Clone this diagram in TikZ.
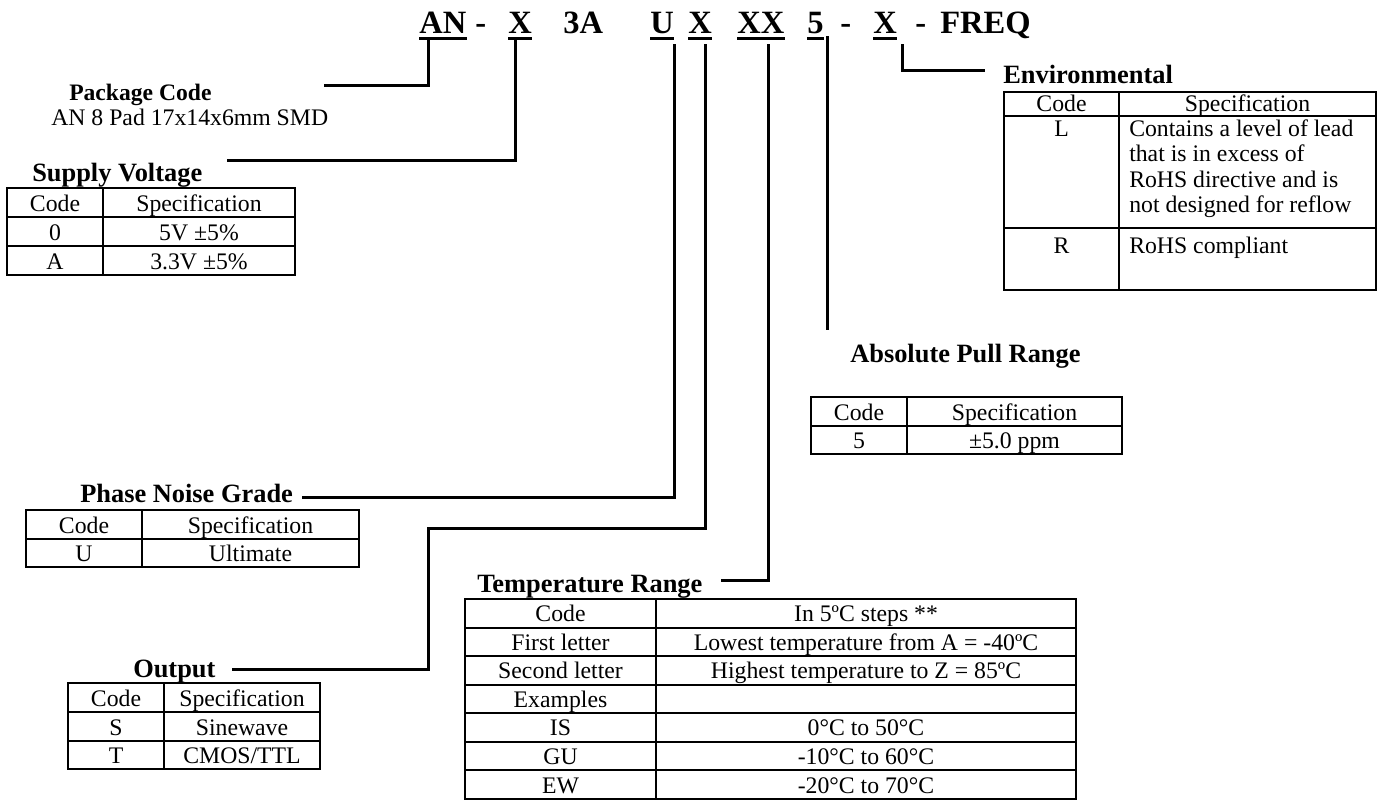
\documentclass[tikz,border=0pt]{standalone}
\usepackage{fontspec}
\setmainfont{Liberation Serif}
\begin{document}
\begin{tikzpicture}[x=0.75pt,y=-0.75pt,
  conn/.style={line width=2.25pt,line join=miter,line cap=rect},
  tbl/.style={line width=1.6pt,line join=miter},
  uline/.style={line width=2pt},
  body/.style={inner sep=0pt,anchor=base,font=\fontsize{17.8}{21}\selectfont},
  bodyl/.style={inner sep=0pt,anchor=base west,font=\fontsize{17.8}{21}\selectfont},
  ttl/.style={inner sep=0pt,anchor=base west,font=\fontsize{19.8}{23}\selectfont\bfseries},
  hdr/.style={inner sep=0pt,anchor=base west,font=\fontsize{24.4}{28}\selectfont\bfseries}]
\useasboundingbox (0,0) rectangle (1381,800);

% ---------- header ----------
\node[hdr] (hAN) at (419,33) {AN};
\node[hdr] (hd1) at (475,33) {-};
\node[hdr] (hX1) at (508,33) {X};
\node[hdr] (h3A) at (563,33) {3A};
\node[hdr] (hU) at (650,33) {U};
\node[hdr] (hX2) at (688,33) {X};
\node[hdr] (hXX) at (737,33) {XX};
\node[hdr] (h5) at (807,33) {5};
\node[hdr] (hd2) at (840,33) {-};
\node[hdr] (hX3) at (873,33) {X};
\node[hdr] (hd3) at (915,33) {-};
\node[hdr] (hF) at (940,33) {FREQ};
\foreach \n in {hAN,hX1,hU,hX2,hXX,h5,hX3}
  \draw[uline] ([yshift=-3.9pt]\n.base west) -- ([yshift=-3.9pt]\n.base east);

% ---------- labels ----------
\node[inner sep=0pt,anchor=base west,font=\fontsize{17.7}{21}\selectfont\bfseries] (lPkg) at (69,100) {Package Code};
\node[bodyl] (lPkgD) at (51,125) {AN 8 Pad 17x14x6mm SMD};
\node[ttl] (lSup) at (32,181) {Supply Voltage};
\node[ttl] (lEnv) at (1003,83) {Environmental};
\node[ttl] (lPull) at (850,362) {Absolute Pull Range};
\node[ttl] (lPh) at (80,502) {Phase Noise Grade};
\node[ttl] (lTmp) at (477,592) {Temperature Range};
\node[ttl] (lOut) at (133,677) {Output};

% ---------- connectors ----------
\coordinate (sAN) at (428,38);  \coordinate (eAN) at (325,85);
\coordinate (sX1) at (515,38);  \coordinate (eX1) at (228,160);
\coordinate (sU) at (674,45);   \coordinate (eU) at (303,497);
\coordinate (sX2) at (705,45);  \coordinate (kX2) at (428,528); \coordinate (eX2) at (233,669);
\coordinate (sXX) at (768,45);  \coordinate (eXX) at (722,580);
\coordinate (s5) at (827,37);   \coordinate (e5) at (827,328);
\coordinate (sX3) at (902,45);  \coordinate (eX3) at (983,70);
\draw[conn] (sAN) |- (eAN);
\draw[conn] (sX1) |- (eX1);
\draw[conn] (sU) |- (eU);
\draw[conn] (sX2) |- (kX2) |- (eX2);
\draw[conn] (sXX) |- (eXX);
\draw[conn] (s5) -- (e5);
\draw[conn] (sX3) |- (eX3);

% ---------- Supply Voltage table ----------
\draw[tbl] (7,188) rectangle (295,275);
\draw[tbl] (7,217) -- (295,217) (7,246) -- (295,246) (103,188) -- (103,275);
\node[body] (sv1) at (55,211) {Code};
\node[body] (sv2) at (199,211) {Specification};
\node[body] (sv3) at (55,240) {0};
\node[body] (sv4) at (199,240) {5V ±5\%};
\node[body] (sv5) at (55,269) {A};
\node[body] (sv6) at (199,269) {3.3V ±5\%};

% ---------- Environmental table ----------
\draw[tbl] (1004,92) rectangle (1376,290);
\draw[tbl] (1004,116) -- (1376,116) (1004,228) -- (1376,228) (1119,92) -- (1119,290);
\node[body] (en1) at (1061.5,111) {Code};
\node[body] (en2) at (1247.5,111) {Specification};
\node[body] (en3) at (1061.5,136) {L};
\node[bodyl] (en4) at (1129,136) {Contains a level of lead};
\node[bodyl] (en5) at (1129,161.5) {that is in excess of};
\node[bodyl] (en6) at (1129,187) {RoHS directive and is};
\node[bodyl] (en7) at (1129,212.5) {not designed for reflow};
\node[body] (en8) at (1061.5,253) {R};
\node[bodyl] (en9) at (1129,253) {RoHS compliant};

% ---------- Absolute Pull Range table ----------
\draw[tbl] (811,397) rectangle (1122,454);
\draw[tbl] (811,426) -- (1122,426) (907,397) -- (907,454);
\node[body] (pr1) at (859,420) {Code};
\node[body] (pr2) at (1014.5,420) {Specification};
\node[body] (pr3) at (859,448) {5};
\node[body] (pr4) at (1014.5,448) {±5.0 ppm};

% ---------- Phase Noise table ----------
\draw[tbl] (26,510) rectangle (359,567);
\draw[tbl] (26,539) -- (359,539) (142,510) -- (142,567);
\node[body] (pn1) at (84,533) {Code};
\node[body] (pn2) at (250.5,533) {Specification};
\node[body] (pn3) at (84,561) {U};
\node[body] (pn4) at (250.5,561) {Ultimate};

% ---------- Output table ----------
\draw[tbl] (68,683) rectangle (320,769);
\draw[tbl] (68,712) -- (320,712) (68,741) -- (320,741) (164,683) -- (164,769);
\node[body] (ou1) at (116,706) {Code};
\node[body] (ou2) at (242,706) {Specification};
\node[body] (ou3) at (116,735) {S};
\node[body] (ou4) at (242,735) {Sinewave};
\node[body] (ou5) at (116,763) {T};
\node[body] (ou6) at (242,763) {CMOS/TTL};

% ---------- Temperature table ----------
\draw[tbl] (465,599) rectangle (1076,799);
\foreach \r in {627.6,656.1,684.7,713.3,741.9,770.4}
  \draw[tbl] (465,\r) -- (1076,\r);
\draw[tbl] (656,599) -- (656,799);
\node[body] (tr1) at (560.5,621.6) {Code};
\node[body] (tr2) at (866,621.6) {In 5ºC steps **};
\node[body] (tr3) at (560.5,650.1) {First letter};
\node[body] (tr4) at (866,650.1) {Lowest temperature from A = -40ºC};
\node[body] (tr5) at (560.5,678.7) {Second letter};
\node[body] (tr6) at (866,678.7) {Highest temperature to Z = 85ºC};
\node[body] (tr7) at (560.5,707.3) {Examples};
\node[body] (tr9) at (560.5,735.9) {IS};
\node[body] (tr10) at (866,735.9) {0°C to 50°C};
\node[body] (tr11) at (560.5,764.4) {GU};
\node[body] (tr12) at (866,764.4) {-10°C to 60°C};
\node[body] (tr13) at (560.5,793) {EW};
\node[body] (tr14) at (866,793) {-20°C to 70°C};
\end{tikzpicture}
\end{document}
